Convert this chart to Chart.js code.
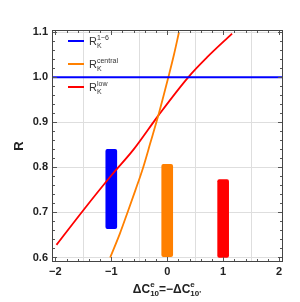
<!DOCTYPE html>
<html>
<head>
<meta charset="utf-8">
<script src="https://cdn.jsdelivr.net/npm/chart.js@4"></script>
<style>
  body { margin: 0; background: #fff; }
  #wrap { width: 300px; height: 302px; }
</style>
</head>
<body>
<div id="wrap"><canvas id="chart" width="300" height="302"></canvas></div>
<script>
const xTicks = [-2, -1, 0, 1, 2];
const yTicks = [0.6, 0.7, 0.8, 0.9, 1.0, 1.1];

// horizontal R_K^{1-6} line
const flatX = [-2.06, 2.07];
const flatY = [1.0, 1.0];

// R_K^{central} curve
const centralX = [-1.02, -0.85, -0.71, -0.57, -0.43, -0.3, -0.16, -0.07, 0.02, 0.12, 0.21];
const centralY = [0.6, 0.652, 0.7, 0.749, 0.8, 0.855, 0.915, 0.957, 1.0, 1.05, 1.1];

// R_K^{low} curve
const lowX = [-1.98, -1.5, -1.0, -0.6, -0.16, 0.375, 0.71, 1.16];
const lowY = [0.628, 0.705, 0.782, 0.84, 0.915, 1.0, 1.044, 1.097];

// measurement bars
const barX = [-1, 0, 1];
const barLow = [0.664, 0.602, 0.6];
const barHigh = [0.84, 0.807, 0.773];
const barColors = ["#0000ff", "#ff8000", "#ff0000"];

const legendItems = [
  { color: "#0000ff", sup: "1\u22126", y: 41 },
  { color: "#ff8000", sup: "central", y: 64 },
  { color: "#ff0000", sup: "low", y: 87 }
];

const toPts = (xs, ys) => xs.map((x, i) => ({ x, y: ys[i] }));

const fontFam = "'Liberation Sans', Arial, sans-serif";

const framePlugin = {
  id: "frame",
  afterDatasetsDraw(chart) {
    const { ctx, chartArea: a, scales } = chart;
    const xs = scales.x, ys = scales.y;
    ctx.save();
    ctx.strokeStyle = "#555";
    ctx.lineWidth = 1;
    // ticks on all four sides, pointing inward
    ctx.beginPath();
    for (let i = -10; i <= 10; i++) {
      const px = Math.round(xs.getPixelForValue(i / 5)) + 0.5;
      const len = i % 5 === 0 ? 5 : 3;
      ctx.moveTo(px, a.bottom); ctx.lineTo(px, a.bottom - len);
      ctx.moveTo(px, a.top); ctx.lineTo(px, a.top + len);
    }
    for (let i = 30; i <= 55; i++) {
      const py = Math.round(ys.getPixelForValue(i / 50)) + 0.5;
      const len = i % 5 === 0 ? 5 : 3;
      ctx.moveTo(a.left, py); ctx.lineTo(a.left + len, py);
      ctx.moveTo(a.right, py); ctx.lineTo(a.right - len, py);
    }
    ctx.stroke();
    ctx.strokeStyle = "#444";
    ctx.strokeRect(Math.round(a.left) + 0.5, Math.round(a.top) + 0.5,
      Math.round(a.right - a.left) - 1, Math.round(a.bottom - a.top) - 1);

    // legend
    ctx.textBaseline = "alphabetic";
    legendItems.forEach(item => {
      ctx.strokeStyle = item.color;
      ctx.lineWidth = 2;
      ctx.beginPath();
      ctx.moveTo(68, item.y); ctx.lineTo(84, item.y);
      ctx.stroke();
      ctx.fillStyle = "#333";
      ctx.font = "11px " + fontFam;
      ctx.fillText("R", 89, item.y + 4);
      const w = ctx.measureText("R").width;
      ctx.font = "7px " + fontFam;
      ctx.fillText("K", 89 + w, item.y + 7);
      ctx.fillText(item.sup, 89 + w, item.y - 1);
    });

    // axis titles
    ctx.fillStyle = "#222";
    ctx.font = "bold 13px " + fontFam;
    ctx.save();
    ctx.translate(23, 146);
    ctx.rotate(-Math.PI / 2);
    ctx.textAlign = "center";
    ctx.fillText("R", 0, 0);
    ctx.restore();

    const parts = [
      { t: "\u0394C", sup: "e", sub: "10" },
      { t: "=\u2212\u0394C", sup: "e", sub: "10'" }
    ];
    const big = "bold 12px " + fontFam, small = "bold 8px " + fontFam;
    let total = 0;
    parts.forEach(p => {
      ctx.font = big; total += ctx.measureText(p.t).width;
      ctx.font = small; total += Math.max(ctx.measureText(p.sup).width, ctx.measureText(p.sub).width);
    });
    let x = 167 - total / 2;
    const base = 293;
    parts.forEach(p => {
      ctx.font = big; ctx.fillText(p.t, x, base); x += ctx.measureText(p.t).width;
      ctx.font = small;
      ctx.fillText(p.sup, x, base - 6);
      ctx.fillText(p.sub, x, base + 3);
      x += Math.max(ctx.measureText(p.sup).width, ctx.measureText(p.sub).width);
    });
    ctx.restore();
  }
};

new Chart(document.getElementById("chart"), {
  type: "line",
  data: {
    datasets: [
      {
        type: "bar",
        data: barX.map((x, i) => ({ x, y: [barLow[i], barHigh[i]] })),
        backgroundColor: barColors,
        borderWidth: 0,
        borderRadius: 2,
        borderSkipped: false,
        barThickness: 11,
        order: 2
      },
      {
        data: toPts(flatX, flatY),
        borderColor: "#0000ff",
        borderWidth: 2,
        pointRadius: 0,
        order: 1
      },
      {
        data: toPts(centralX, centralY),
        borderColor: "#ff8000",
        borderWidth: 1.8,
        pointRadius: 0,
        tension: 0.4,
        cubicInterpolationMode: "monotone",
        order: 1
      },
      {
        data: toPts(lowX, lowY),
        borderColor: "#ff0000",
        borderWidth: 1.8,
        pointRadius: 0,
        tension: 0.4,
        cubicInterpolationMode: "monotone",
        order: 1
      }
    ]
  },
  options: {
    responsive: false,
    animation: false,
    layout: { padding: { top: 30, right: 17, left: 0, bottom: 0 } },
    plugins: { legend: { display: false }, tooltip: { enabled: false } },
    scales: {
      x: {
        type: "linear",
        min: -2.06,
        max: 2.07,
        offset: false,
        afterBuildTicks: s => { s.ticks = xTicks.map(v => ({ value: v })); },
        afterFit: s => { s.height = 40; },
        ticks: {
          padding: 3,
          color: "#222",
          font: { family: fontFam, size: 11, weight: "bold" },
          callback: v => (v < 0 ? "\u2212" + Math.abs(v) : String(v))
        },
        grid: { color: "#dedede", drawTicks: false },
        border: { display: false }
      },
      y: {
        min: 0.59,
        max: 1.105,
        afterBuildTicks: s => { s.ticks = yTicks.map(v => ({ value: v })); },
        afterFit: s => { s.width = 52; },
        ticks: {
          padding: 4,
          color: "#222",
          font: { family: fontFam, size: 11, weight: "bold" },
          callback: v => v.toFixed(1)
        },
        grid: { color: "#dedede", drawTicks: false },
        border: { display: false }
      }
    }
  },
  plugins: [framePlugin]
});
</script>
</body>
</html>
